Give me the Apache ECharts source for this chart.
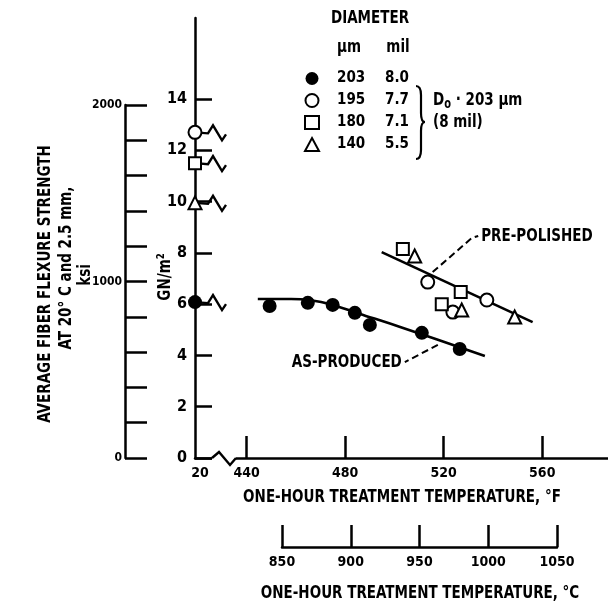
<!DOCTYPE html>
<html>
<head>
<meta charset="utf-8">
<script src="https://cdn.jsdelivr.net/npm/echarts@6/dist/echarts.min.js"></script>
<style>
html,body{margin:0;padding:0;background:#fff;}
#chart{width:608px;height:604px;}
</style>
</head>
<body>
<div id="chart"></div>
<script>
// ---------------- data ----------------
const ROOM_TEMP = 20;              // room-temperature reference value (°F label)
const BREAK_POS = 419;             // where the broken axis draws the 20° values
const ROOM_LABEL_POS = 421;
const TEMP_TICKS_F = [440, 480, 520, 560];
const STRENGTH_TICKS = [0, 2, 4, 6, 8, 10, 12, 14];
const KSI_LABELS = [0, 1000, 2000];
const SECOND_AXIS_TICKS = [850, 900, 950, 1000, 1050];

const legendNames = ['203', '195', '180', '140'];
const legendMil = ['8.0', '7.7', '7.1', '5.5'];

const d203Temp = [20, 449.3, 464.8, 474.9, 483.9, 490.0, 511.1, 526.5];
const d203Str  = [6.08, 5.93, 6.05, 5.97, 5.66, 5.19, 4.88, 4.25];
const d195Temp = [20, 513.5, 523.7, 537.5];
const d195Str  = [12.7, 6.86, 5.69, 6.16];
const d180Temp = [20, 503.4, 519.2, 526.9];
const d180Str  = [11.5, 8.15, 6.0, 6.47];
const d140Temp = [20, 508.2, 527.3, 548.8];
const d140Str  = [9.95, 7.88, 5.77, 5.50];

const asProducedFitTemp = [444.5, 458, 466, 474, 486, 502, 536.7];
const asProducedFitStr  = [6.2, 6.2, 6.15, 6.0, 5.62, 5.12, 3.98];
const prePolishedFitTemp = [494.8, 556.1];
const prePolishedFitStr  = [8.03, 5.30];

const prePolishedLeaderTemp = [515.5, 531.4, 534.0];
const prePolishedLeaderStr  = [7.25, 8.58, 8.66];
const asProducedLeaderTemp = [517.6, 504.2];
const asProducedLeaderStr  = [4.41, 3.74];

// ---------------- helpers ----------------
const FONT = '"DejaVu Sans Condensed", "Liberation Sans Narrow", "DejaVu Sans", sans-serif';
const plotT = t => (t === ROOM_TEMP ? BREAK_POS : t);
const pts = (ts, vs) => ts.map((t, i) => [plotT(t), vs[i]]);

const chart = echarts.init(document.getElementById('chart'), null, {renderer: 'canvas'});

const axisLineStyle = {color: '#000', width: 2.5};
const markerBase = {type: 'scatter', xAxisIndex: 0, yAxisIndex: 0, z: 5};

const roomPoints = [d203Str[0], d195Str[0], d180Str[0], d140Str[0]].map(v => [BREAK_POS, v]);
const zig = [[0, 0], [13, 1], [18, -7], [27, 8], [31, 2]];
const axisZig = [[17, 0], [24, -6], [35, 7], [41, 0]];

const braceStyle = {stroke: '#000', lineWidth: 2.2, fill: null};
const SY = 1.2;
const txt = (x, y, text) => ({type: 'text', x: x, y: y, scaleY: SY,
  style: {text: text, font: 'bold 15px ' + FONT, fill: '#000', textAlign: 'center', textVerticalAlign: 'middle'}});
const txtRot = (x, y, text) => ({type: 'text', x: x, y: y, rotation: Math.PI / 2, scaleY: SY,
  style: {text: text, font: 'bold 15px ' + FONT, fill: '#000', textAlign: 'center', textVerticalAlign: 'middle'}});
const plain = v => String(v);

const annotation = (name, temps, strs, label, side) => ({
  type: 'custom', name: name, xAxisIndex: 0, yAxisIndex: 0, data: [pts(temps, strs)[temps.length - 1]],
  z: 4, clip: false, silent: true,
  renderItem: (params, api) => {
    const p = api.coord([api.value(0), api.value(1)]);
    return {type: 'text', x: p[0] + (side === 'right' ? -3 : 3), y: p[1], scaleY: SY,
      style: {text: label, font: 'bold 15px ' + FONT, fill: '#000', textAlign: side, textVerticalAlign: 'middle'}};
  }
});

const option = {
  backgroundColor: '#fff',
  animation: false,
  textStyle: {fontFamily: FONT, fontWeight: 'bold', color: '#000'},
  grid: [
    {left: 195, right: 0, top: 18, bottom: 146},
    {left: 125, width: 1, top: 105, bottom: 146},
    {left: 282, right: 51, top: 500, bottom: 57}
  ],
  xAxis: [
    {
      gridIndex: 0, type: 'value', min: BREAK_POS, max: 586.7,
      splitLine: {show: false},
      axisLine: {lineStyle: axisLineStyle},
      axisTick: {inside: true, length: 22, customValues: TEMP_TICKS_F, lineStyle: {width: 2.5, color: '#000'}},
      axisLabel: {customValues: [ROOM_LABEL_POS].concat(TEMP_TICKS_F), margin: 8,
        formatter: v => (v === ROOM_LABEL_POS ? String(ROOM_TEMP) : String(v)),
        fontFamily: FONT, fontWeight: 'bold', fontSize: 14, color: '#000'}
    },
    {gridIndex: 1, type: 'value', show: false},
    {
      gridIndex: 2, type: 'value', min: 850, max: 1050, interval: 50,
      splitLine: {show: false},
      axisLine: {lineStyle: axisLineStyle},
      axisTick: {inside: true, length: 22, lineStyle: {width: 2.5, color: '#000'}},
      axisLabel: {customValues: SECOND_AXIS_TICKS, formatter: plain, margin: 8, fontFamily: FONT, fontWeight: 'bold', fontSize: 14, color: '#000'}
    }
  ],
  yAxis: [
    {
      gridIndex: 0, type: 'value', min: 0, max: 17.16,
      splitLine: {show: false},
      axisLine: {lineStyle: axisLineStyle},
      axisTick: {inside: true, length: 17, customValues: STRENGTH_TICKS, lineStyle: {width: 2.5, color: '#000'}},
      axisLabel: {customValues: STRENGTH_TICKS, formatter: plain, margin: 8, fontFamily: FONT, fontWeight: 'bold', fontSize: 16, color: '#000'}
    },
    {
      gridIndex: 1, type: 'value', min: 0, max: 2000, interval: 200,
      splitLine: {show: false},
      axisLine: {lineStyle: axisLineStyle},
      axisTick: {inside: true, length: 22, lineStyle: {width: 2.5, color: '#000'}},
      axisLabel: {customValues: KSI_LABELS, formatter: plain, margin: 3, fontFamily: FONT, fontWeight: 'bold', fontSize: 12, color: '#000'}
    },
    {gridIndex: 2, type: 'value', show: false}
  ],
  legend: {
    left: 299, top: 66, orient: 'vertical', itemWidth: 14, itemHeight: 13, itemGap: 7,
    data: legendNames,
    formatter: name => `{a|${name}}{b|${legendMil[legendNames.indexOf(name)]}}`,
    textStyle: {
      fontFamily: FONT, fontWeight: 'bold', fontSize: 15, color: '#000', lineHeight: 13,
      rich: {
        a: {width: 48, padding: [0, 0, 0, 13], fontFamily: FONT, fontWeight: 'bold', fontSize: 15},
        b: {fontFamily: FONT, fontWeight: 'bold', fontSize: 15}
      }
    },
    selectedMode: false
  },
  series: [
    {type: 'line', name: 'As-produced fit', xAxisIndex: 0, yAxisIndex: 0, data: pts(asProducedFitTemp, asProducedFitStr),
     smooth: 0.3, symbol: 'none', lineStyle: {color: '#000', width: 2.6}, z: 3},
    {type: 'line', name: 'Pre-polished fit', xAxisIndex: 0, yAxisIndex: 0, data: pts(prePolishedFitTemp, prePolishedFitStr),
     symbol: 'none', lineStyle: {color: '#000', width: 2.6}, z: 3},
    {type: 'line', name: 'pp leader', xAxisIndex: 0, yAxisIndex: 0, data: pts(prePolishedLeaderTemp, prePolishedLeaderStr),
     symbol: 'none', lineStyle: {color: '#000', width: 2, type: [7, 4]}, z: 3},
    {type: 'line', name: 'ap leader', xAxisIndex: 0, yAxisIndex: 0, data: pts(asProducedLeaderTemp, asProducedLeaderStr),
     symbol: 'none', lineStyle: {color: '#000', width: 2, type: [7, 4]}, z: 3},
    annotation('pp label', prePolishedLeaderTemp, prePolishedLeaderStr, 'PRE-POLISHED', 'left'),
    annotation('ap label', asProducedLeaderTemp, asProducedLeaderStr, 'AS-PRODUCED', 'right'),
    {type: 'custom', name: 'room breaks', xAxisIndex: 0, yAxisIndex: 0, data: roomPoints, z: 4, clip: false, silent: true,
     renderItem: (params, api) => {
       const p = api.coord([api.value(0), api.value(1)]);
       return {type: 'polyline', shape: {points: zig.map(o => [p[0] + o[0], p[1] + o[1]])},
         style: {stroke: '#000', lineWidth: 2.4, fill: null}};
     }},
    {type: 'custom', name: 'axis break', xAxisIndex: 0, yAxisIndex: 0, data: [[BREAK_POS, 0]], z: 4, clip: false, silent: true,
     renderItem: (params, api) => {
       const p = api.coord([api.value(0), api.value(1)]);
       return {type: 'group', children: [
         {type: 'rect', shape: {x: p[0] + axisZig[0][0], y: p[1] - 3, width: axisZig[3][0] - axisZig[0][0], height: 6}, style: {fill: '#fff'}},
         {type: 'polyline', shape: {points: axisZig.map(o => [p[0] + o[0], p[1] + o[1]])}, style: {stroke: '#000', lineWidth: 2.4, fill: null}}
       ]};
     }},
    Object.assign({}, markerBase, {name: '203', data: pts(d203Temp, d203Str), symbol: 'circle', symbolSize: 14,
      itemStyle: {color: '#000', opacity: 1}}),
    Object.assign({}, markerBase, {name: '195', data: pts(d195Temp, d195Str), symbol: 'emptyCircle', symbolSize: 13,
      itemStyle: {color: '#000', borderColor: '#000', borderWidth: 2.5, opacity: 1}}),
    Object.assign({}, markerBase, {name: '180', data: pts(d180Temp, d180Str), symbol: 'emptyRect', symbolSize: 12,
      itemStyle: {color: '#000', borderColor: '#000', borderWidth: 2.5, opacity: 1}}),
    Object.assign({}, markerBase, {name: '140', data: pts(d140Temp, d140Str), symbol: 'emptyTriangle', symbolSize: 13,
      itemStyle: {color: '#000', borderColor: '#000', borderWidth: 2.5, opacity: 1}})
  ],
  graphic: [
    txt(370, 18, 'DIAMETER'),
    txt(349, 47, 'μm'),
    txt(398, 47, 'mil'),
    {type: 'bezierCurve', shape: {x1: 416, y1: 86, x2: 421, y2: 95, cpx1: 421, cpy1: 86}, style: braceStyle},
    {type: 'line', shape: {x1: 421, y1: 95, x2: 421, y2: 113}, style: braceStyle},
    {type: 'bezierCurve', shape: {x1: 421, y1: 113, x2: 425, y2: 122, cpx1: 421, cpy1: 122}, style: braceStyle},
    {type: 'bezierCurve', shape: {x1: 425, y1: 122, x2: 421, y2: 131, cpx1: 421, cpy1: 122}, style: braceStyle},
    {type: 'line', shape: {x1: 421, y1: 131, x2: 421, y2: 150}, style: braceStyle},
    {type: 'bezierCurve', shape: {x1: 421, y1: 150, x2: 416, y2: 159, cpx1: 421, cpy1: 159}, style: braceStyle},
    {type: 'text', x: 433, y: 100, scaleY: SY, style: {text: '{a|D}{s|o}{a| · 203 μm}', textVerticalAlign: 'middle',
      rich: {a: {font: 'bold 15px ' + FONT, fill: '#000'}, s: {font: 'bold 11px ' + FONT, fill: '#000', padding: [8, 0, 0, 0]}}}},
    {type: 'text', x: 433, y: 122, scaleY: SY, style: {text: '(8 mil)', font: 'bold 15px ' + FONT, fill: '#000', textVerticalAlign: 'middle'}},
    txtRot(45, 284, 'AVERAGE FIBER FLEXURE STRENGTH'),
    txtRot(66, 268, 'AT 20° C and 2.5 mm,'),
    txtRot(85, 275, 'ksi'),
    txtRot(165, 277, 'GN/m²'),
    txt(402, 497, 'ONE-HOUR TREATMENT TEMPERATURE, °F'),
    txt(420, 593, 'ONE-HOUR TREATMENT TEMPERATURE, °C')
  ]
};
chart.setOption(option);
</script>
</body>
</html>
